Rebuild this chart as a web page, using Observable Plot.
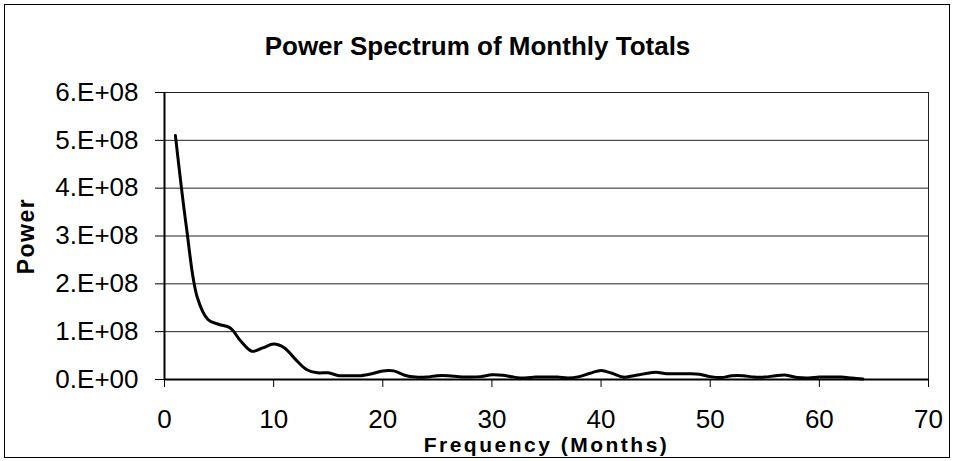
<!DOCTYPE html>
<html>
<head>
<meta charset="utf-8">
<script src="https://cdn.jsdelivr.net/npm/d3@7"></script>
<script src="https://cdn.jsdelivr.net/npm/@observablehq/plot@0.6"></script>
<style>
  html, body { margin: 0; padding: 0; background: #fff; }
  svg { display: block; }
</style>
</head>
<body>
<div id="chart"></div>
<script>
const title = "Power Spectrum of Monthly Totals";
const xLabel = "Frequency (Months)";
const yLabel = "Power";

const frequency = [
  1, 2, 3, 4, 5, 6, 7, 8, 9, 10, 11, 12, 13, 14, 15, 16,
  17, 18, 19, 20, 21, 22, 23, 24, 25, 26, 27, 28, 29, 30, 31, 32,
  33, 34, 35, 36, 37, 38, 39, 40, 41, 42, 43, 44, 45, 46, 47, 48,
  49, 50, 51, 52, 53, 54, 55, 56, 57, 58, 59, 60, 61, 62, 63, 64
];
const power = [
  5.10e8, 3.20e8, 1.72e8, 1.25e8, 1.15e8, 1.08e8, 0.80e8, 0.59e8,
  0.66e8, 0.74e8, 0.66e8, 0.42e8, 0.21e8, 0.14e8, 0.14e8, 0.08e8,
  0.08e8, 0.08e8, 0.12e8, 0.18e8, 0.18e8, 0.09e8, 0.05e8, 0.05e8,
  0.08e8, 0.08e8, 0.06e8, 0.05e8, 0.06e8, 0.10e8, 0.09e8, 0.05e8,
  0.03e8, 0.05e8, 0.05e8, 0.05e8, 0.03e8, 0.06e8, 0.13e8, 0.19e8,
  0.13e8, 0.05e8, 0.08e8, 0.12e8, 0.15e8, 0.12e8, 0.12e8, 0.12e8,
  0.11e8, 0.06e8, 0.04e8, 0.08e8, 0.08e8, 0.05e8, 0.05e8, 0.08e8,
  0.09e8, 0.04e8, 0.03e8, 0.05e8, 0.05e8, 0.05e8, 0.03e8, 0.01e8
];
const xTicks = [0, 10, 20, 30, 40, 50, 60, 70];
const yTicks = [0, 1e8, 2e8, 3e8, 4e8, 5e8, 6e8];

const data = frequency.map((f, i) => ({f, p: power[i]}));

const sci = d => {
  if (d === 0) return "0.E+00";
  const e = Math.floor(Math.log10(d));
  const m = Math.round(d / Math.pow(10, e));
  return `${m}.E+${String(e).padStart(2, "0")}`;
};

const font = '"Liberation Sans", Arial, Helvetica, sans-serif';

const chart = Plot.plot({
  width: 954,
  height: 461,
  marginTop: 92,
  marginRight: 26,
  marginBottom: 82,
  marginLeft: 164,
  style: {fontFamily: font, fontSize: "26px", color: "black", background: "white", overflow: "visible"},
  x: {domain: [0, 70], axis: null},
  y: {domain: [0, 6e8], axis: null},
  marks: [
    Plot.ruleY(yTicks, {stroke: "#222", strokeWidth: 1}),
    Plot.frame({stroke: "#222", strokeWidth: 1}),
    Plot.axisY({ticks: yTicks, tickFormat: sci, tickSize: 9, tickPadding: 17, fontSize: 26, label: null}),
    Plot.axisX({ticks: xTicks, tickFormat: d => String(d), tickSize: 8, tickPadding: 22, fontSize: 26, label: null}),
    Plot.ruleX([0], {stroke: "black", strokeWidth: 2}),
    Plot.ruleY([0], {stroke: "black", strokeWidth: 2}),
    Plot.line(data, {x: "f", y: "p", curve: "catmull-rom", stroke: "black", strokeWidth: 3}),
    Plot.text([title], {text: d => d, frameAnchor: "top", dx: -69, dy: -46, fontSize: 26, fontWeight: "bold", lineAnchor: "middle", fill: "black"}),
    Plot.text([xLabel], {text: d => d, frameAnchor: "bottom", dy: 66, fontSize: 21, fontWeight: "bold", lineAnchor: "middle", textAnchor: "middle", fill: "black"}),
    Plot.text([yLabel], {text: d => d, frameAnchor: "left", dx: -138, rotate: -90, fontSize: 23, fontWeight: "bold", lineAnchor: "middle", textAnchor: "middle", fill: "black"})
  ]
});

const svg = d3.select(chart);
svg.selectAll("text").filter(function() { return this.textContent === xLabel; })
  .attr("letter-spacing", "2.5px");
svg.selectAll("text").filter(function() { return this.textContent === yLabel; })
  .attr("letter-spacing", "1.5px");

svg.append("rect")
  .attr("x", 4.5).attr("y", 4.5)
  .attr("width", 945).attr("height", 453)
  .attr("fill", "none").attr("stroke", "black").attr("stroke-width", 1);

document.getElementById("chart").appendChild(chart);
</script>
</body>
</html>
